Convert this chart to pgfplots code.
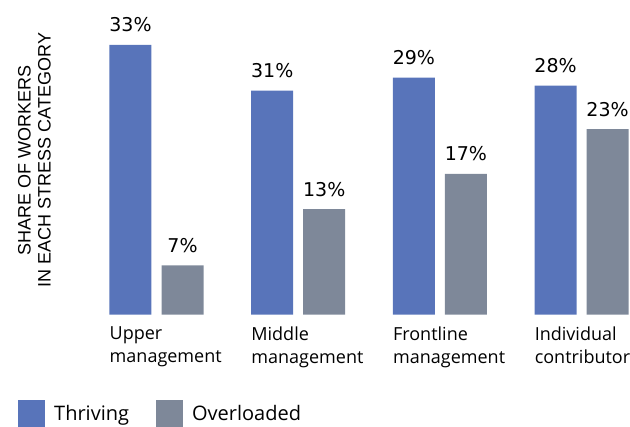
\documentclass[border=0pt]{standalone}
\usepackage{pgfplots}
\pgfplotsset{compat=1.18}
\usepackage{pgfplotstable}
\usepackage{fontspec}
\setmainfont{Liberation Sans}
\newfontfamily\catfont{Open Sans}
\newfontfamily\numfont{DejaVu Sans}

\definecolor{thriving}{RGB}{88,116,186}
\definecolor{overloaded}{RGB}{126,136,153}

% bar heights as drawn; lab = printed share
\pgfplotstableread{
x y lab
0 33.0 33
1 27.4 31
2 29.0 29
3 28.0 28
}\thriving
\pgfplotstableread{
x y lab
0 6.0 7
1 12.9 13
2 17.2 17
3 22.7 23
}\overloaded

\begin{document}
\begin{tikzpicture}
\begin{axis}[
    x=141.7bp, y=8.17bp,
    xmin=-1.1045, xmax=3.3416,
    ymin=0, ymax=38.49,
    clip=false,
    axis line style={draw=none},
    tick style={draw=none},
    ytick=\empty,
    xtick={0,1,2,3},
    xticklabels={{Upper\\management},{Middle\\management},{Frontline\\management},{Individual\\contributor}},
    x tick label style={font=\catfont\fontsize{18bp}{22.7bp}\selectfont,
        align=left, anchor=north west, inner sep=0pt, xshift=-47bp, yshift=-12bp},
    ylabel={SHARE OF WORKERS\\IN EACH STRESS CATEGORY},
    ylabel style={font=\fontsize{18bp}{20bp}\selectfont, align=center,
        at={(axis description cs:0.0548,0.4913)}, anchor=center, rotate=0},
    point meta=explicit symbolic,
    nodes near coords={\pgfplotspointmeta\%},
    nodes near coords style={font=\numfont\fontsize{19bp}{22bp}\selectfont,
        anchor=base, inner sep=0pt, yshift=13bp},
    legend columns=2,
    legend style={draw=none, fill=none, inner sep=0pt,
        at={(axis description cs:0.0286,-0.3148)}, anchor=west,
        font=\catfont\fontsize{20bp}{24bp}\selectfont,
        nodes={inner sep=0pt, inner xsep=9bp},
        /tikz/every even column/.append style={column sep=18bp}},
    legend image code/.code={\fill[#1] (0bp,-13.5bp) rectangle (27bp,13.5bp);},
]
\addplot[ybar, bar width=42bp, bar shift=0pt, fill=thriving, draw=none]
    table[x expr=\thisrow{x}-0.1835, y=y, meta=lab] {\thriving};
\addlegendentry{Thriving}
\addplot[ybar, bar width=42bp, bar shift=0pt, fill=overloaded, draw=none]
    table[x expr=\thisrow{x}+0.1835, y=y, meta=lab] {\overloaded};
\addlegendentry{Overloaded}
\coordinate (o) at (axis cs:0,0);
\end{axis}
\pgfresetboundingbox
\path (o) ++(-156.5bp,-112.5bp) rectangle ++(630bp,427bp);
\end{tikzpicture}
\end{document}
